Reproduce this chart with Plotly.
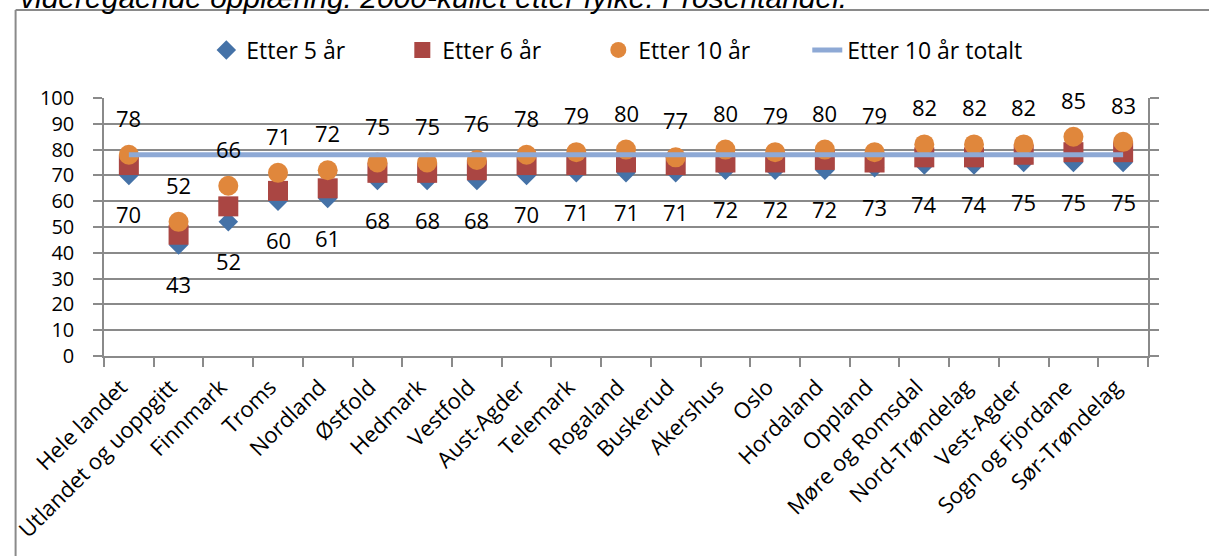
import plotly.graph_objects as go

categories = ["Hele landet", "Utlandet og uoppgitt", "Finnmark", "Troms", "Nordland",
              "Østfold", "Hedmark", "Vestfold", "Aust-Agder", "Telemark", "Rogaland",
              "Buskerud", "Akershus", "Oslo", "Hordaland", "Oppland", "Møre og Romsdal",
              "Nord-Trøndelag", "Vest-Agder", "Sogn og Fjordane", "Sør-Trøndelag"]
etter5 = [70, 43, 52, 60, 61, 68, 68, 68, 70, 71, 71, 71, 72, 72, 72, 73, 74, 74, 75, 75, 75]
etter6 = [74, 47, 58, 64, 65, 71, 71, 72, 74, 74, 75, 74, 75, 75, 76, 75, 77, 77, 78, 79, 79]
etter10 = [78, 52, 66, 71, 72, 75, 75, 76, 78, 79, 80, 77, 80, 79, 80, 79, 82, 82, 82, 85, 83]
etter10_totalt = [78] * len(categories)
y_ticks = list(range(0, 101, 10))
title_text = "videregående opplæring. 2000-kullet etter fylke. Prosentandel."

W, H = 1209, 556
ML, MR, MT, MB = 97, 61, 98, 200
PW, PH = W - ML - MR, H - MT - MB

def px(x):
    return (x - ML) / PW

def py(y):
    return (H - MB - y) / PH

FONT = "Open Sans"
GRAY = "#8a8a8a"

fig = go.Figure()
fig.add_trace(go.Scatter(x=categories, y=etter5, mode="markers", name="Etter 5 år",
                         marker=dict(symbol="diamond", size=15, color="#4572A7")))
fig.add_trace(go.Scatter(x=categories, y=etter6, mode="markers", name="Etter 6 år",
                         marker=dict(symbol="square", size=20, color="#AA4643")))
fig.add_trace(go.Scatter(x=categories, y=etter10, mode="markers", name="Etter 10 år",
                         marker=dict(symbol="circle", size=20, color="#E0873C")))
fig.add_trace(go.Scatter(x=categories, y=etter10_totalt, mode="lines", name="Etter 10 år totalt",
                         line=dict(color="#8EA9D5", width=5), legend="legend2"))

annotations = []
for c, v in zip(categories, etter10):
    annotations.append(dict(x=c, y=v, xref="x", yref="y", text=str(v), showarrow=False,
                            yshift=37, yanchor="middle",
                            font=dict(family=FONT, size=22, color="black")))
for c, v in zip(categories, etter5):
    annotations.append(dict(x=c, y=v, xref="x", yref="y", text=str(v), showarrow=False,
                            yshift=-39, yanchor="middle",
                            font=dict(family=FONT, size=22, color="black")))
annotations.append(dict(x=px(10), y=py(16), xref="paper", yref="paper", text="<i>" + title_text + "</i>",
                        showarrow=False, xanchor="left", yanchor="bottom",
                        font=dict(family="Liberation Sans", size=30, color="black")))

shapes = [
    dict(type="line", xref="paper", yref="paper", x0=px(8), y0=py(H + 5), x1=px(8), y1=py(10),
         line=dict(color=GRAY, width=2)),
    dict(type="line", xref="paper", yref="paper", x0=px(8), y0=py(10), x1=px(W + 5), y1=py(10),
         line=dict(color=GRAY, width=2)),
]

fig.update_layout(
    width=W, height=H,
    margin=dict(l=ML, r=MR, t=MT, b=MB, pad=0),
    paper_bgcolor="white", plot_bgcolor="white",
    font=dict(family=FONT, size=22, color="black"),
    showlegend=True,
    legend=dict(orientation="h", x=px(200), xanchor="left", y=py(50), yanchor="middle",
                font=dict(family=FONT, size=23, color="black"),
                entrywidth=151, entrywidthmode="pixels", itemsizing="trace",
                bgcolor="rgba(0,0,0,0)"),
    legend2=dict(orientation="h", x=px(805), xanchor="left", y=py(50), yanchor="middle",
                 font=dict(family=FONT, size=23, color="black"),
                 bgcolor="rgba(0,0,0,0)"),
    annotations=annotations,
    shapes=shapes,
    xaxis=dict(type="category", categoryorder="array", categoryarray=categories,
               tickson="boundaries", ticks="outside", ticklen=9, tickcolor=GRAY, tickwidth=1.5,
               showline=True, linecolor=GRAY, linewidth=1.5, showgrid=False, tickangle=-45,
               tickfont=dict(family=FONT, size=22, color="black"), mirror=False,
               ticklabelstandoff=8, ticklabelshift=-8,
               range=[-0.5, len(categories) - 0.5]),
    yaxis=dict(range=[0, 100], tickvals=y_ticks, ticks="outside", ticklen=9, tickcolor=GRAY,
               tickwidth=1.5, showline=True, linecolor=GRAY, linewidth=1.5, mirror="ticks",
               showgrid=True, gridcolor=GRAY, gridwidth=1.5, zeroline=False,
               tickfont=dict(family=FONT, size=20, color="black"), ticklabelstandoff=15),
)

fig.write_html("out.html", config={"displayModeBar": False},
               post_script="document.body.style.margin='0';document.body.style.overflow='hidden';")
